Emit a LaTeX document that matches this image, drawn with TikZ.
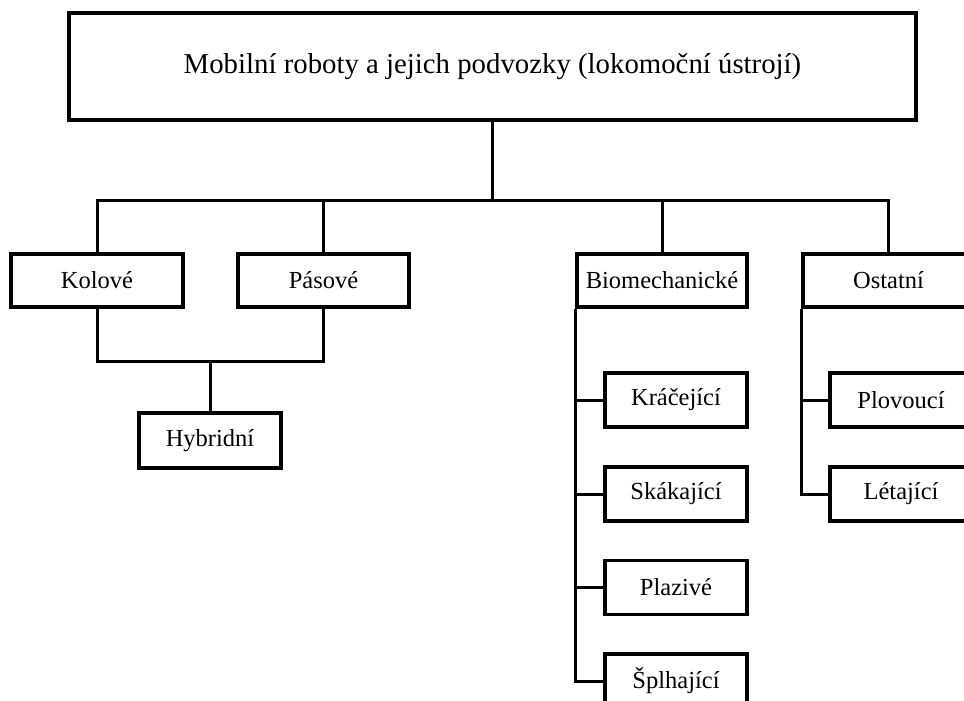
\documentclass[tikz,border=0pt]{standalone}
\usepackage{fontspec}
\setmainfont{Liberation Serif}
\begin{document}
\begin{tikzpicture}[x=1pt,y=1pt,
  box/.style={draw=black,line width=3.6pt,inner sep=0pt,minimum height=53pt,font=\fontsize{24.5}{28}\selectfont},
  wire/.style={draw=black,line width=3pt}]
\useasboundingbox (0,0) rectangle (964,-701);
\clip (0,0) rectangle (964,-701);
\node[box,minimum width=847pt,minimum height=107pt,font=\fontsize{28.8}{32}\selectfont] (top) at (492.5,-66.5) {Mobilní roboty a jejich podvozky (lokomoční ústrojí)};
\node[box,minimum width=172pt] (kol) at (97,-280.5) {Kolové};
\node[box,minimum width=171pt] (pas) at (323.5,-280.5) {Pásové};
\node[box,minimum width=170pt] (bio) at (662,-280.5) {Biomechanické};
\node[box,minimum width=171pt] (ost) at (888.5,-280.5) {Ostatní};
\node[box,minimum width=142pt,minimum height=55pt] (hyb) at (210,-440.5) {Hybridní};
\node[box,minimum width=142pt,minimum height=54pt] (kra) at (676,-400) {Kráčející};
\node[box,minimum width=142pt,minimum height=54pt] (ska) at (676,-494) {Skákající};
\node[box,minimum width=142pt,minimum height=54pt] (pla) at (676,-587.5) {Plazivé};
\node[box,minimum width=142pt,minimum height=54pt] (spl) at (676,-681) {Šplhající};
\node[box,minimum width=142pt,minimum height=54pt] (plo) at (901,-400) {Plovoucí};
\node[box,minimum width=142pt,minimum height=54pt] (let) at (901,-494) {Létající};
\coordinate (bus) at (492.5,-200);
\coordinate (hbus) at (210,-361);
\draw[wire] (top.south) -- (bus);
\draw[wire] (kol.north) |- (bus) -| (ost.north);
\draw[wire] (pas.north) -- (pas.north |- bus);
\draw[wire] (bio.north) -- (bio.north |- bus);
\draw[wire] (kol.south) |- (hbus) -| (pas.south);
\draw[wire] (hbus) -- (hyb.north);
\draw[wire] (bio.south west) |- (spl.west);
\draw[wire] (kra.west) -- (kra.west -| bio.south west);
\draw[wire] (ska.west) -- (ska.west -| bio.south west);
\draw[wire] (pla.west) -- (pla.west -| bio.south west);
\draw[wire] (ost.south west) |- (let.west);
\draw[wire] (plo.west) -- (plo.west -| ost.south west);
\end{tikzpicture}
\end{document}
